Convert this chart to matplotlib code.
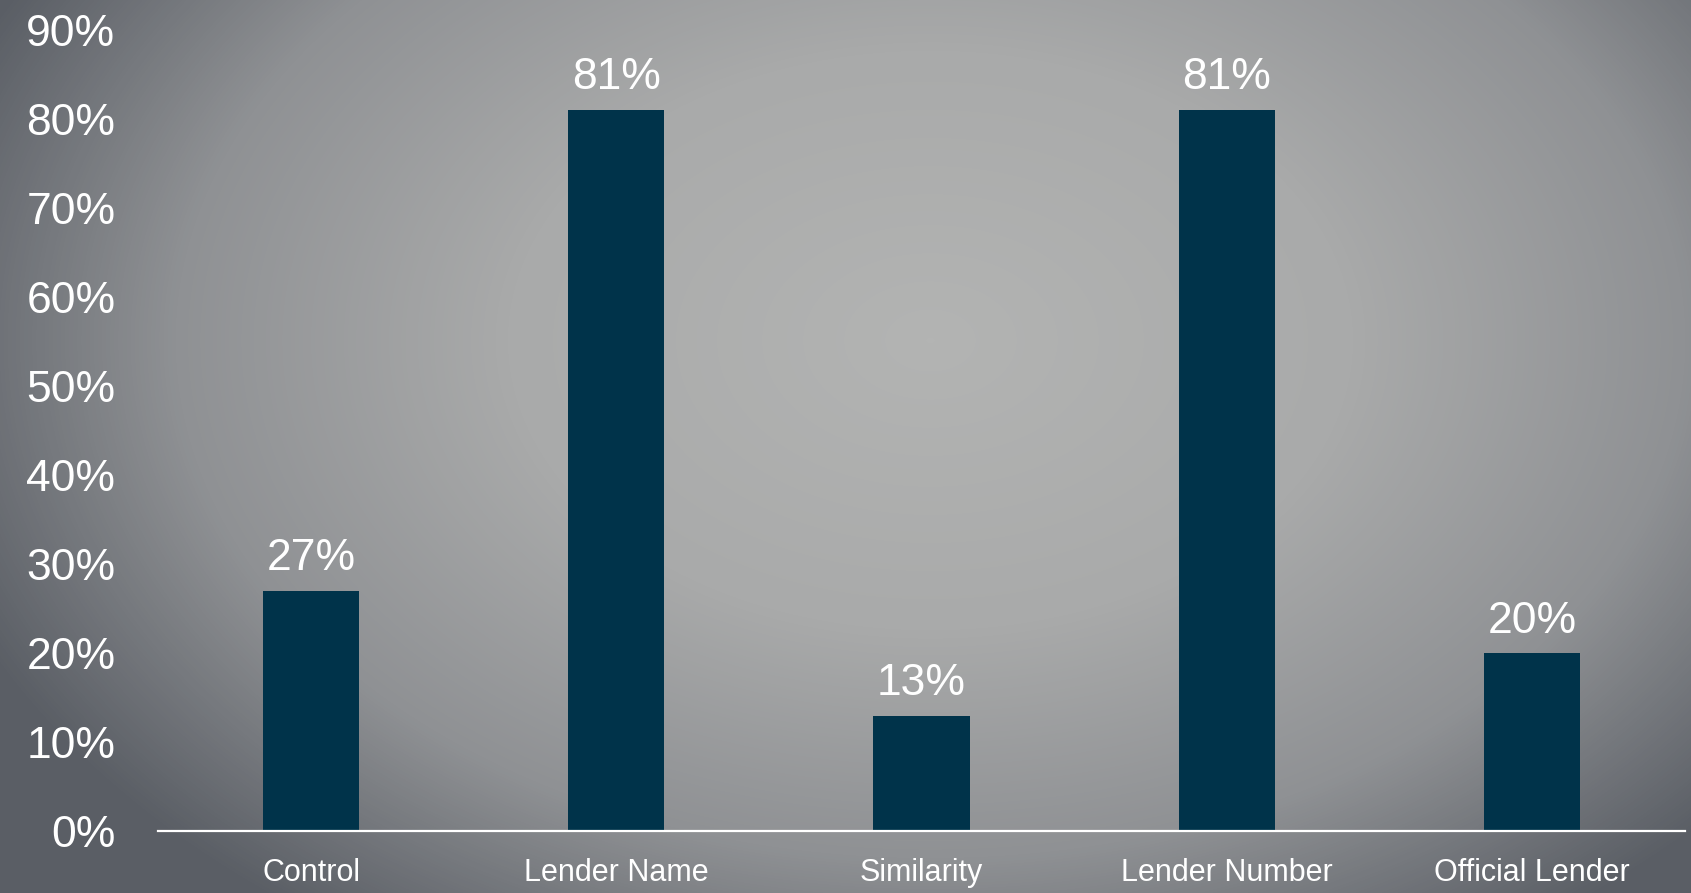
import numpy as np
import matplotlib.pyplot as plt
from matplotlib.colors import LinearSegmentedColormap
from matplotlib.ticker import PercentFormatter

categories = ["Control", "Lender Name", "Similarity", "Lender Number", "Official Lender"]
values = [0.27, 0.81, 0.13, 0.81, 0.20]
y_ticks = [0.0, 0.1, 0.2, 0.3, 0.4, 0.5, 0.6, 0.7, 0.8, 0.9]

bar_color = "#00334a"
text_color = "white"

fig = plt.figure(figsize=(16.91, 8.93), dpi=100)

# radial grey background
bg = fig.add_axes([0, 0, 1, 1], zorder=-1)
bg.set_axis_off()
w, h = 1691, 893
xx, yy = np.meshgrid(np.arange(w), np.arange(h))
cx, cy = 930, 340
r = np.sqrt(((xx - cx) / 1050.0) ** 2 + ((yy - cy) / 720.0) ** 2)
r = np.clip(r, 0, 1)
cmap = LinearSegmentedColormap.from_list(
    "bg",
    [(0.0, "#b3b4b3"), (0.4, "#a9aaaa"), (0.72, "#8f9194"), (1.0, "#5a5e65")],
)
bg.imshow(r, cmap=cmap, vmin=0, vmax=1, aspect="auto", interpolation="bilinear")

ax = fig.add_axes([0.0937, 0.0689, 0.9025, 0.8975])
ax.set_facecolor("none")

x = np.arange(len(categories))
bars = ax.bar(x, values, width=0.315, color=bar_color, zorder=2)

for xi, v in zip(x, values):
    ax.annotate(
        f"{v:.0%}",
        xy=(xi, v),
        xytext=(0, 15),
        textcoords="offset points",
        ha="center",
        va="baseline",
        color=text_color,
        fontsize=32,
        family=["Liberation Sans", "DejaVu Sans"],
    )

ax.set_xlim(-0.5, len(categories) - 0.5)
ax.set_ylim(0, 0.9)
ax.set_yticks(y_ticks)
ax.yaxis.set_major_formatter(PercentFormatter(1.0, decimals=0))
ax.set_xticks(x)
ax.set_xticklabels(categories)

for lab in ax.get_yticklabels():
    lab.set_fontsize(32)
    lab.set_family(["Liberation Sans", "DejaVu Sans"])
    lab.set_color(text_color)
for lab in ax.get_xticklabels():
    lab.set_fontsize(22)
    lab.set_family(["Liberation Sans", "DejaVu Sans"])
    lab.set_color(text_color)

ax.tick_params(axis="y", length=0, pad=31)
ax.tick_params(axis="x", length=0, pad=19)

for side in ["top", "right", "left"]:
    ax.spines[side].set_visible(False)
ax.spines["bottom"].set_color("white")
ax.spines["bottom"].set_linewidth(1.6)
ax.spines["bottom"].set_zorder(3)

fig.savefig("out.png", dpi=100)
